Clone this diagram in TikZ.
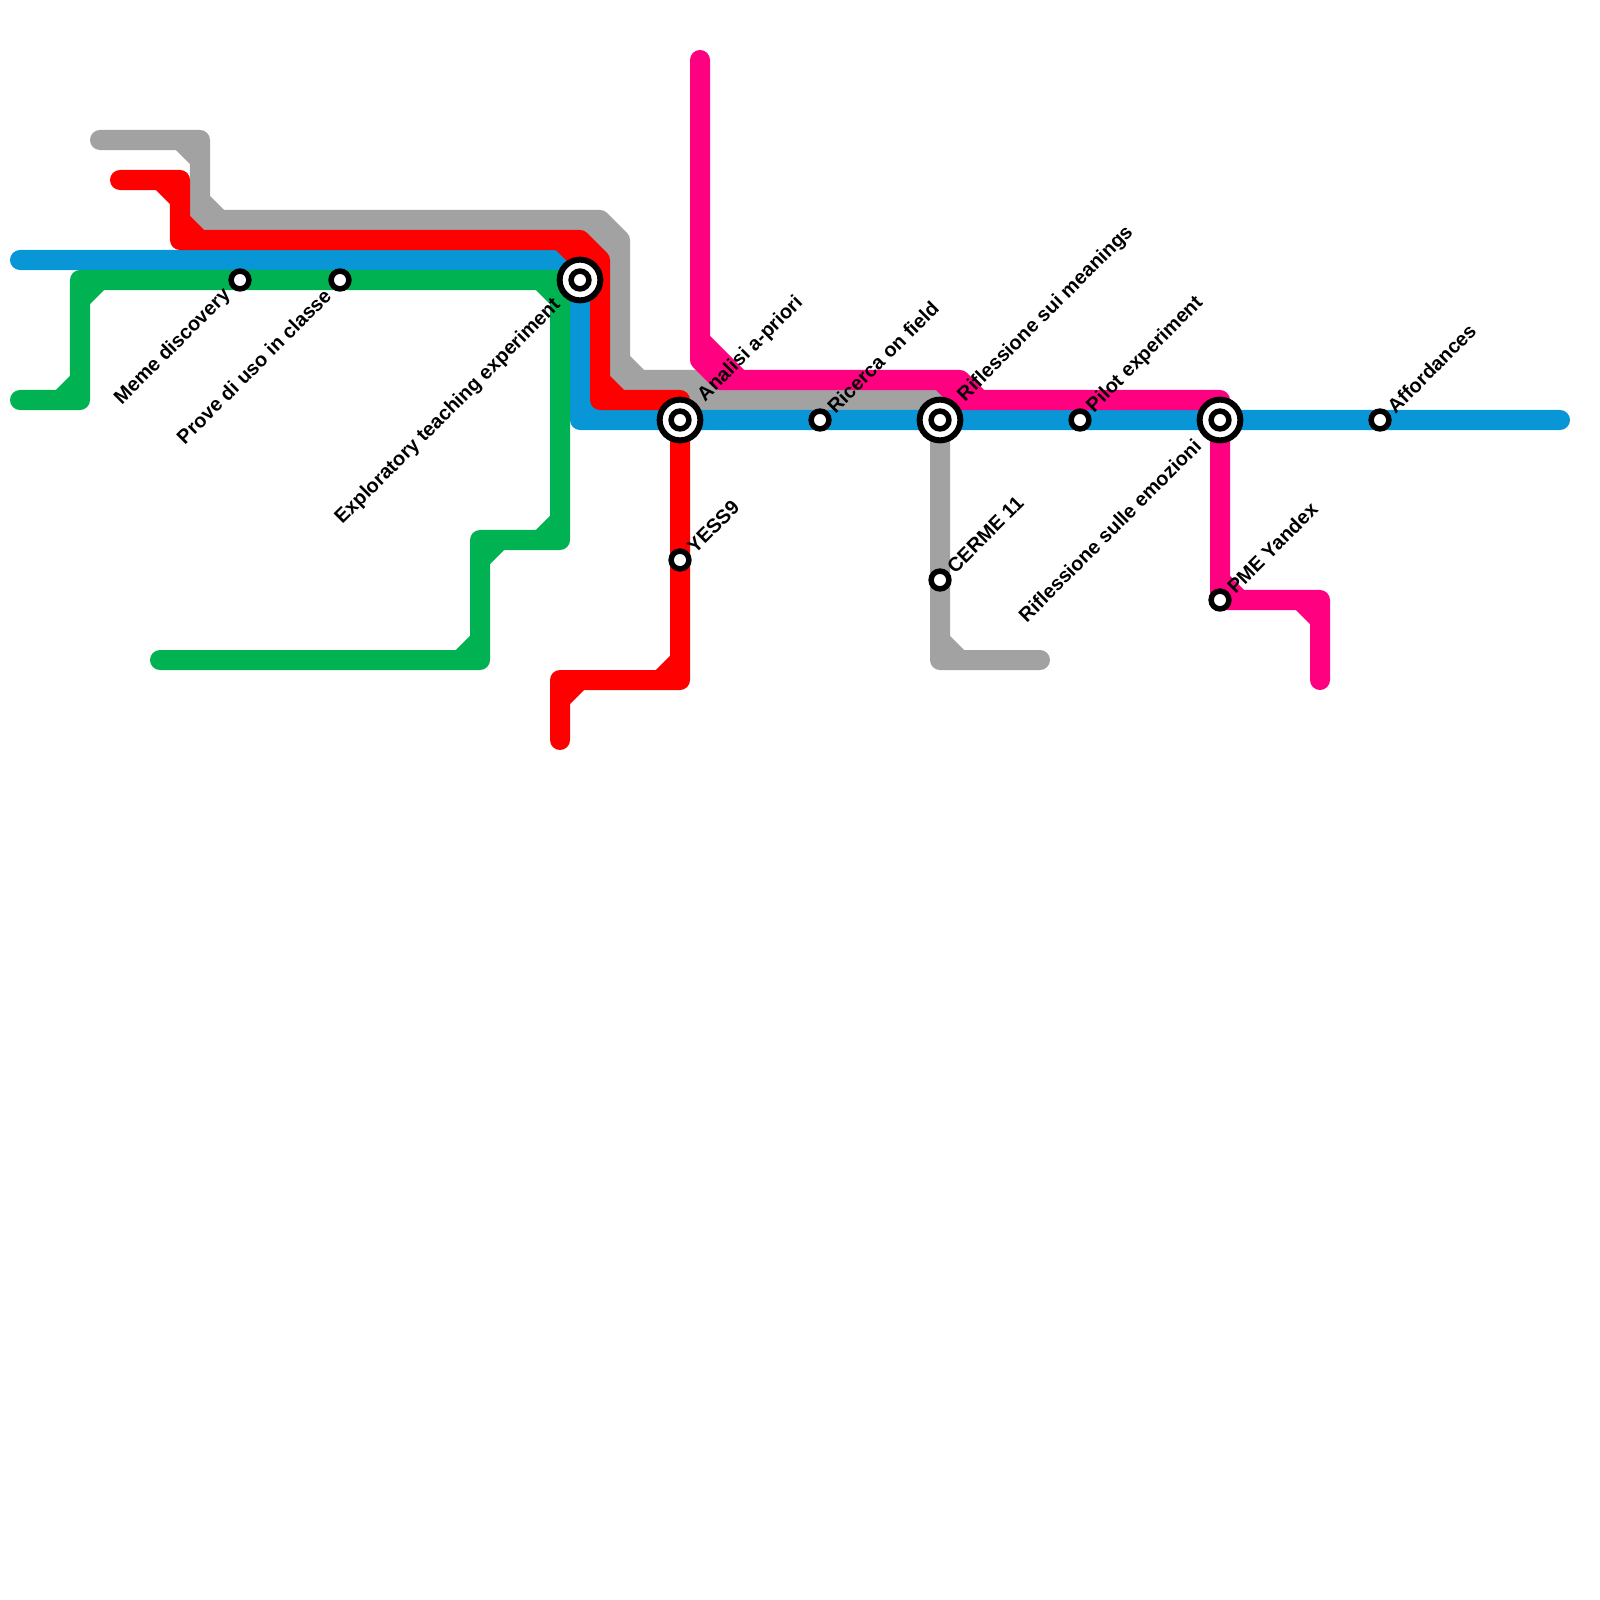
\documentclass[tikz,border=0pt]{standalone}
\usepackage{fontspec}
\setmainfont{Liberation Sans}
\usetikzlibrary{positioning,calc}
\definecolor{gry}{HTML}{A2A2A2}
\definecolor{blu}{HTML}{0896D7}
\definecolor{grn}{HTML}{00B251}
\definecolor{rdd}{HTML}{FF0000}
\definecolor{pnk}{HTML}{FF0080}
\tikzset{
  metro/.style={line width=2mm, line cap=round, line join=round},
  stn/.style={draw, circle, fill=white, line width=0.55mm, minimum size=1.78mm, inner sep=0pt},
  hub/.style={draw, circle, fill=white, line width=0.6mm, minimum size=4.07mm, inner sep=0pt},
  lbl/.style={font=\fontsize{5.65}{6.8}\selectfont\bfseries, inner sep=0pt, rotate=45}}
\begin{document}
\begin{tikzpicture}[x=0.01cm, y=-0.01cm]
\useasboundingbox (0,0) rectangle (1600,1600);
% lines, with the short chords that fill the inside of each bend
\draw[metro, gry] (100,140) -- (200,140) -- (200,220) -- (600,220) -- (620,240) -- (620,380) -- (700,380) -- (720,400) -- (940,400) -- (940,660) -- (1040,660)
  (180,140) -- (200,160) (200,200) -- (220,220) (580,220) -- (620,260) (620,360) -- (640,380) (680,380) -- (720,420) (920,400) -- (940,420) (940,640) -- (960,660);
\draw[metro, blu] (20,260) -- (560,260) -- (580,280) -- (580,420) -- (1560,420)
  (580,400) -- (600,420);
\draw[metro, grn] (20,400) -- (80,400) -- (80,280) -- (560,280) -- (560,540) -- (480,540) -- (480,660) -- (160,660)
  (60,400) -- (80,380) (100,280) -- (80,300) (540,280) -- (560,300) (540,540) -- (560,520) (500,540) -- (480,560) (460,660) -- (480,640);
\draw[metro, rdd] (120,180) -- (180,180) -- (180,240) -- (580,240) -- (600,260) -- (600,400) -- (680,400) -- (680,680) -- (560,680) -- (560,740)
  (160,180) -- (180,200) (180,220) -- (200,240) (560,240) -- (580,260) (600,380) -- (620,400) (660,680) -- (680,660) (580,680) -- (560,700);
\draw[metro, pnk] (700,60) -- (700,360) -- (720,380) -- (960,380) -- (980,400) -- (1220,400) -- (1220,600) -- (1320,600) -- (1320,680)
  (700,340) -- (740,380) (940,380) -- (960,400) -- (980,400) (1220,580) -- (1240,600) (1300,600) -- (1320,620);
% stations
\foreach \n/\x/\y in {expl/580/280, anal/680/420, rifm/940/420, rife/1220/420} {
  \node[hub] (h\n) at (\x,\y) {};}
\foreach \n/\x/\y in {meme/240/280, prov/340/280, expl/580/280, anal/680/420, rice/820/420, rifm/940/420, pilo/1080/420, rife/1220/420, affo/1380/420, yess/680/560, cerm/940/580, pmey/1220/600} {
  \node[stn] (\n) at (\x,\y) {};}
% labels
\foreach \n/\d/\t in {anal/21/{Analisi a-priori}, rifm/21/{Riflessione sui meanings}, rice/10/{Ricerca on field}, pilo/10/{Pilot experiment}, affo/10/{Affordances}, yess/10/YESS9, cerm/10/{CERME 11}, pmey/10/{PME Yandex}} {
  \node[lbl, anchor=west] (l\n) at ($(\n)+(\d,-\d)$) {\t};}
\foreach \n/\d/\t in {meme/12/{Meme discovery}, prov/12/{Prove di uso in classe}, expl/22/{Exploratory teaching experiment}, rife/22/{Riflessione sulle emozioni}} {
  \node[lbl, anchor=east] (l\n) at ($(\n)+(-\d,\d)$) {\t};}
\end{tikzpicture}
\end{document}
